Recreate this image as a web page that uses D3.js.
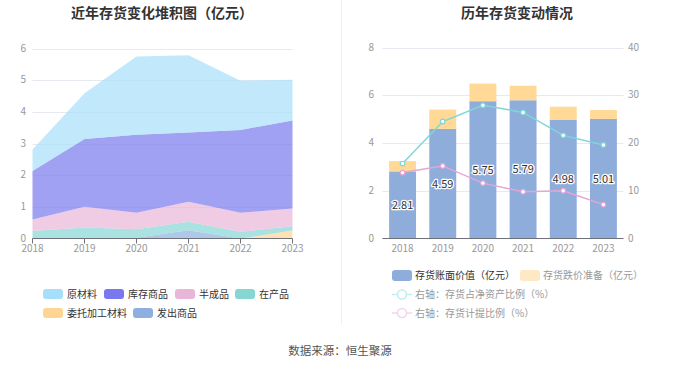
<!DOCTYPE html>
<html>
<head>
<meta charset="utf-8">
<script src="https://cdn.jsdelivr.net/npm/d3@7"></script>
<style>
  body { margin: 0; background: #fff; font-family: "Noto Sans CJK SC", "Noto Sans", sans-serif; }
  svg text { font-family: "Noto Sans CJK SC", "Noto Sans", sans-serif; }
</style>
</head>
<body>
<script>
// ---- data ----
var years = ["2018", "2019", "2020", "2021", "2022", "2023"];

// left: stacked composition (亿元), bottom to top
var faChu   = [0, 0, 0.02, 0.26, 0, 0];        // 发出商品
var weiTuo  = [0, 0, 0, 0, 0, 0.25];           // 委托加工材料
var zaiChan = [0.24, 0.35, 0.27, 0.27, 0.21, 0.14]; // 在产品
var banCheng = [0.36, 0.65, 0.52, 0.63, 0.60, 0.56]; // 半成品
var kuCun   = [1.53, 2.14, 2.47, 2.19, 2.62, 2.78]; // 库存商品
var yuanCai = [0.68, 1.45, 2.47, 2.44, 1.55, 1.28]; // 原材料

// right: bars + lines
var bookValue = [2.81, 4.59, 5.75, 5.79, 4.98, 5.01]; // 存货账面价值
var impairment = [0.43, 0.81, 0.74, 0.61, 0.54, 0.37]; // 存货跌价准备
var ratioNetAsset = [15.7, 24.5, 27.9, 26.4, 21.6, 19.6]; // 存货占净资产比例
var ratioProvision = [13.8, 15.2, 11.6, 9.8, 10.0, 7.1]; // 存货计提比例

var leftTicks = [0, 1, 2, 3, 4, 5, 6];
var rightTicksL = [0, 2, 4, 6, 8];
var rightTicksR = [0, 10, 20, 30, 40];

var W = 680, H = 367;
var svg = d3.select("body").append("svg").attr("width", W).attr("height", H);

// titles
svg.append("text").attr("x", 162).attr("y", 18).attr("text-anchor", "middle")
  .attr("font-size", 14).attr("font-weight", "bold").attr("fill", "#333")
  .text("近年存货变化堆积图（亿元）");
svg.append("text").attr("x", 517).attr("y", 18).attr("text-anchor", "middle")
  .attr("font-size", 14).attr("font-weight", "bold").attr("fill", "#333")
  .text("历年存货变动情况");

// divider
svg.append("line").attr("x1", 341.5).attr("x2", 341.5).attr("y1", 0).attr("y2", 325)
  .attr("stroke", "#f0f0f0").attr("stroke-width", 1);

// footer
svg.append("text").attr("x", 340).attr("y", 355).attr("text-anchor", "middle")
  .attr("font-size", 11.5).attr("fill", "#555").text("数据来源：恒生聚源");

// ================= left chart =================
var lx = d3.scalePoint().domain(years).range([32.5, 292.5]);
var ly = d3.scaleLinear().domain([0, 6]).range([238.5, 48.5]);

var gL = svg.append("g");
gL.selectAll("line.grid").data(leftTicks.slice(1)).enter().append("line")
  .attr("x1", 32.5).attr("x2", 292.5)
  .attr("y1", function(d) { return Math.round(ly(d)) + 0.5; })
  .attr("y2", function(d) { return Math.round(ly(d)) + 0.5; })
  .attr("stroke", "#e6e9f0");

var stackSeries = [
  {name: "发出商品", values: faChu, color: "#8fb0de"},
  {name: "委托加工材料", values: weiTuo, color: "#ffd594"},
  {name: "在产品", values: zaiChan, color: "#86d6d4"},
  {name: "半成品", values: banCheng, color: "#e8b6d7"},
  {name: "库存商品", values: kuCun, color: "#7879ee"},
  {name: "原材料", values: yuanCai, color: "#a6dff9"}
];
var rows = years.map(function(y, i) {
  var r = {year: y};
  stackSeries.forEach(function(s) { r[s.name] = s.values[i]; });
  return r;
});
var stack = d3.stack().keys(stackSeries.map(function(s) { return s.name; }));
var layers = stack(rows);
var area = d3.area()
  .x(function(d) { return lx(d.data.year); })
  .y0(function(d) { return ly(d[0]); })
  .y1(function(d) { return ly(d[1]); });

gL.selectAll("path.layer").data(layers).enter().append("path")
  .attr("d", area)
  .attr("fill", function(d, i) { return stackSeries[i].color; })
  .attr("fill-opacity", 0.7);

// axes
gL.append("line").attr("x1", 32.5).attr("x2", 292.5).attr("y1", 238.5).attr("y2", 238.5)
  .attr("stroke", "#6e7079");
gL.selectAll("line.tick").data(years).enter().append("line")
  .attr("x1", function(d) { return lx(d); }).attr("x2", function(d) { return lx(d); })
  .attr("y1", 238.5).attr("y2", 243.5).attr("stroke", "#6e7079");
gL.selectAll("text.xl").data(years).enter().append("text")
  .attr("x", function(d) { return lx(d); }).attr("y", 252)
  .attr("text-anchor", "middle").attr("font-size", 10).attr("fill", "#999")
  .text(function(d) { return d; });
gL.selectAll("text.yl").data(leftTicks).enter().append("text")
  .attr("x", 26).attr("y", function(d) { return ly(d) + 3; })
  .attr("text-anchor", "end").attr("font-size", 10).attr("fill", "#999")
  .text(function(d) { return d; });

// left legend
var legL = [
  {name: "原材料", color: "#a6dff9", x: 43, y: 294},
  {name: "库存商品", color: "#7879ee", x: 104, y: 294},
  {name: "半成品", color: "#e8b6d7", x: 175, y: 294},
  {name: "在产品", color: "#86d6d4", x: 235, y: 294},
  {name: "委托加工材料", color: "#ffd594", x: 43, y: 313},
  {name: "发出商品", color: "#8fb0de", x: 133, y: 313}
];
var lg = gL.selectAll("g.leg").data(legL).enter().append("g");
lg.append("rect").attr("x", function(d) { return d.x; }).attr("y", function(d) { return d.y - 5; })
  .attr("width", 20).attr("height", 10).attr("rx", 3).attr("fill", function(d) { return d.color; });
lg.append("text").attr("x", function(d) { return d.x + 24; }).attr("y", function(d) { return d.y + 3.5; })
  .attr("font-size", 10).attr("fill", "#333").text(function(d) { return d.name; });

// ================= right chart =================
var rx = d3.scaleBand().domain(years).range([382.5, 623.5]).paddingInner(0.33).paddingOuter(0.165);
var ryL = d3.scaleLinear().domain([0, 8]).range([238.5, 47.5]);
var ryR = d3.scaleLinear().domain([0, 40]).range([238.5, 47.5]);

var gR = svg.append("g");
gR.selectAll("line.grid").data(rightTicksL.slice(1)).enter().append("line")
  .attr("x1", 382.5).attr("x2", 623.5)
  .attr("y1", function(d) { return Math.round(ryL(d)) + 0.5; })
  .attr("y2", function(d) { return Math.round(ryL(d)) + 0.5; })
  .attr("stroke", "#e6e9f0");

gR.selectAll("rect.book").data(bookValue).enter().append("rect")
  .attr("x", function(d, i) { return rx(years[i]); })
  .attr("width", rx.bandwidth())
  .attr("y", function(d) { return ryL(d); })
  .attr("height", function(d) { return ryL(0) - ryL(d); })
  .attr("fill", "#8eaddb");
gR.selectAll("rect.imp").data(impairment).enter().append("rect")
  .attr("x", function(d, i) { return rx(years[i]); })
  .attr("width", rx.bandwidth())
  .attr("y", function(d, i) { return ryL(bookValue[i] + d); })
  .attr("height", function(d) { return ryL(0) - ryL(d); })
  .attr("fill", "#ffd995");

var line = d3.line()
  .x(function(d, i) { return rx(years[i]) + rx.bandwidth() / 2; })
  .y(function(d) { return ryR(d); });
[{v: ratioNetAsset, c: "#7fd6d8"}, {v: ratioProvision, c: "#e3a6d6"}].forEach(function(s) {
  gR.append("path").attr("d", line(s.v)).attr("fill", "none").attr("stroke", s.c).attr("stroke-width", 1.5);
  gR.selectAll(null).data(s.v).enter().append("circle")
    .attr("cx", function(d, i) { return rx(years[i]) + rx.bandwidth() / 2; })
    .attr("cy", function(d) { return ryR(d); })
    .attr("r", 2.3).attr("fill", "#fff").attr("stroke", s.c).attr("stroke-width", 1.2);
});

// bar labels
gR.selectAll("text.bl").data(bookValue).enter().append("text")
  .attr("x", function(d, i) { return rx(years[i]) + rx.bandwidth() / 2; })
  .attr("y", function(d) { return ryL(d / 2) + 4; })
  .attr("text-anchor", "middle").attr("font-size", 11)
  .attr("fill", "#333").attr("stroke", "#fff").attr("stroke-width", 2.5)
  .attr("paint-order", "stroke").attr("stroke-linejoin", "round")
  .text(function(d) { return d.toFixed(2); });

// axes
gR.append("line").attr("x1", 382.5).attr("x2", 623.5).attr("y1", 238.5).attr("y2", 238.5)
  .attr("stroke", "#6e7079");
gR.selectAll("text.xl").data(years).enter().append("text")
  .attr("x", function(d) { return rx(d) + rx.bandwidth() / 2; }).attr("y", 252)
  .attr("text-anchor", "middle").attr("font-size", 10).attr("fill", "#999")
  .text(function(d) { return d; });
gR.selectAll("text.yl").data(rightTicksL).enter().append("text")
  .attr("x", 374).attr("y", function(d) { return ryL(d) + 3; })
  .attr("text-anchor", "end").attr("font-size", 10).attr("fill", "#999")
  .text(function(d) { return d; });
gR.selectAll("text.yr").data(rightTicksR).enter().append("text")
  .attr("x", 628).attr("y", function(d) { return ryR(d) + 3; })
  .attr("text-anchor", "start").attr("font-size", 10).attr("fill", "#999")
  .text(function(d) { return d; });

// right legend
var rl = gR.append("g");
rl.append("rect").attr("x", 392).attr("y", 270).attr("width", 20).attr("height", 11).attr("rx", 3).attr("fill", "#8eaddb");
rl.append("text").attr("x", 415).attr("y", 279).attr("font-size", 10).attr("fill", "#333").text("存货账面价值（亿元）");
rl.append("rect").attr("x", 520).attr("y", 270).attr("width", 20).attr("height", 11).attr("rx", 3).attr("fill", "#ffe8c4");
rl.append("text").attr("x", 543).attr("y", 279).attr("font-size", 10).attr("fill", "#999").text("存货跌价准备（亿元）");
[{y: 294.5, c: "#bfeeee", t: "右轴：存货占净资产比例（%）"}, {y: 313, c: "#f5d3ec", t: "右轴：存货计提比例（%）"}].forEach(function(d) {
  rl.append("line").attr("x1", 392).attr("x2", 412).attr("y1", d.y).attr("y2", d.y).attr("stroke", d.c).attr("stroke-width", 1.5);
  rl.append("circle").attr("cx", 402).attr("cy", d.y).attr("r", 4.5).attr("fill", "#fff").attr("stroke", d.c).attr("stroke-width", 1.5);
  rl.append("text").attr("x", 415).attr("y", d.y + 3.5).attr("font-size", 10).attr("fill", "#999").text(d.t);
});
</script>
</body>
</html>
